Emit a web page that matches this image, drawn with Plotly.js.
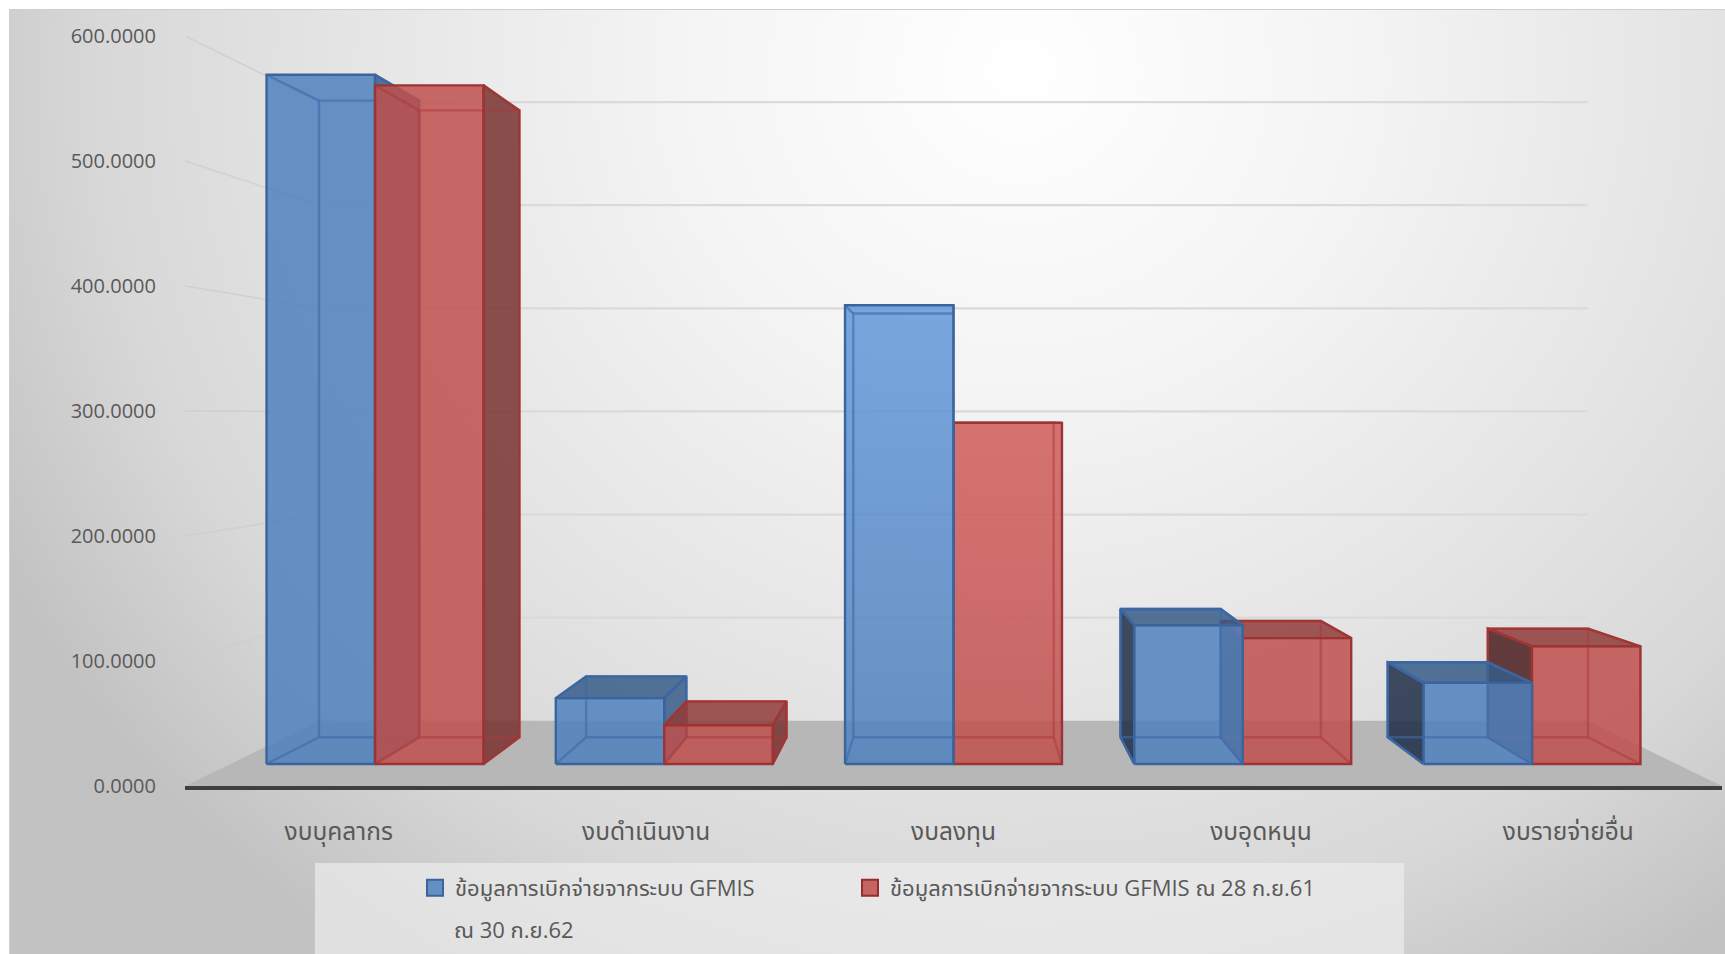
<!DOCTYPE html>
<html>
<head>
<meta charset="utf-8">
<script src="https://cdn.plot.ly/plotly-3.0.1.min.js"></script>
<style>
html,body{margin:0;padding:0;background:#fff;overflow:hidden}
#bg{position:absolute;left:9px;top:9px;width:1716px;height:945px;
 background:radial-gradient(ellipse 1150px 1080px at 1010px 60px,#ffffff 0%,#f4f4f4 30%,#e5e5e5 58%,#d8d8d8 80%,#c2c2c2 100%);
 border-top:1px solid #cfcfcf;border-left:1px solid #cfcfcf}
#chart{position:absolute;left:0;top:0;width:1725px;height:954px}
</style>
</head>
<body>
<div id="bg"></div>
<div id="chart"></div>
<script>
var categories = ['งบบุคลากร','งบดำเนินงาน','งบลงทุน','งบอุดหนุน','งบรายจ่ายอื่น'];
var disbursed62 = [586, 56, 390, 118, 69];
var disbursed61 = [577, 33, 290, 107, 100];
var seriesName62 = 'ข้อมูลการเบิกจ่ายจากระบบ GFMIS';
var seriesNote62 = 'ณ 30 ก.ย.62';
var seriesName61 = 'ข้อมูลการเบิกจ่ายจากระบบ GFMIS ณ 28 ก.ย.61';
var tickValues = [0,100,200,300,400,500,600];

var FONT = '"Open Sans","Noto Sans Thai","Noto Sans",sans-serif';
var VPX = 2, VPY = 298, K = 0.2121, Z_F = 0.296, Z_B = 0.71, HALF = 0.375;
function P(x, v, z, out){ var s = 1/(1+K*z); out.x.push(VPX+(x-VPX)*s); out.y.push(VPY+(v-VPY)*s); }
function poly(pts, fill, line, lw){
  var o = {x:[],y:[]};
  pts.forEach(function(p){ if(p===null){o.x.push(null);o.y.push(null);} else P(p[0],p[1],p[2],o); });
  var t = {type:'scatter',mode:'lines',x:o.x,y:o.y,hoverinfo:'skip',showlegend:false,
    line:{color:line||'rgba(0,0,0,0)',width:lw||0}};
  if(fill){t.fill='toself';t.fillcolor=fill;}
  return t;
}
var STY = {
  blue:{front:'rgba(79,129,189,0.85)',frontTop:'rgba(98,152,216,0.85)',side:'rgba(55,92,135,0.85)',left:'rgba(30,45,70,0.85)',top:'rgba(55,92,135,0.85)',
        edge:'rgb(58,100,155)',inner:'rgba(60,105,170,0.6)'},
  red:{front:'rgba(192,80,77,0.85)',frontTop:'rgba(208,92,90,0.85)',side:'rgba(120,50,48,0.85)',left:'rgba(75,30,30,0.85)',top:'rgba(145,60,58,0.85)',
        edge:'rgb(155,52,52)',inner:'rgba(170,55,55,0.5)'}
};
function bar(x0,x1,v,st,glow){
  var a=[], f=Z_F, b=Z_B;
  if(x1<VPX-1e-6) a.push(poly([[x1,0,f],[x1,v,f],[x1,v,b],[x1,0,b],[x1,0,f]],st.side,st.edge,2.4));
  if(x0>VPX+1e-6) a.push(poly([[x0,0,f],[x0,v,f],[x0,v,b],[x0,0,b],[x0,0,f]],st.left,st.edge,2.4));
  if(v<VPY) a.push(poly([[x0,v,f],[x1,v,f],[x1,v,b],[x0,v,b],[x0,v,f]],st.top,st.edge,2.4));
  var face = poly([[x0,0,f],[x1,0,f],[x1,v,f],[x0,v,f],[x0,0,f]],st.front,null,0);
  if(glow) face.fillgradient = {type:'vertical',colorscale:[[0,st.front],[1,st.frontTop]]};
  a.push(face);
  a.push(poly([[x0,0,b],[x1,0,b],[x1,v,b],[x0,v,b],[x0,0,b],null,
               [x0,0,f],[x0,0,b],null,[x1,0,f],[x1,0,b],null,[x0,v,f],[x0,v,b],null,[x1,v,f],[x1,v,b]],null,st.inner,2.4));
  a.push(poly([[x0,0,f],[x1,0,f],[x1,v,f],[x0,v,f],[x0,0,f]],null,st.edge,2.4));
  return a;
}
var traces = [];
traces.push(poly([[-0.5,0,0],[4.5,0,0],[4.5,0,1],[-0.5,0,1],[-0.5,0,0]],'rgb(183,183,183)',null,0));
tickValues.forEach(function(t){
  if(t>0){
    traces.push(poly([[-0.5,t,1],[4.5,t,1]],null,'rgb(218,218,218)',2.2));
    traces.push(poly([[-0.5,t,0],[-0.5,t,1]],null,'rgba(205,205,205,0.8)',1.5));
  }
});
var order = [0,1,2,4,3];
order.forEach(function(i){
  var glow = i===2;
  var blue = bar(i-HALF,i,disbursed62[i],STY.blue,glow);
  var red  = bar(i,i+HALF,disbursed61[i],STY.red,glow);
  traces = traces.concat(i<VPX ? blue.concat(red) : red.concat(blue));
});
traces.push({type:'scatter',mode:'markers',x:[null],y:[null],name:seriesName62,hoverinfo:'skip',legend:'legend',
  marker:{symbol:'square',size:16,color:'rgb(100,143,194)',line:{color:'rgb(58,100,155)',width:2}}});
traces.push({type:'scatter',mode:'markers',x:[null],y:[null],name:seriesName61,hoverinfo:'skip',legend:'legend2',
  marker:{symbol:'square',size:16,color:'rgb(196,101,98)',line:{color:'rgb(150,45,45)',width:2}}});

var L=185,T=36,W=1537,H=750;
function px(p){return (p-L)/W;}
function py(p){return (T+H-p)/H;}
var legendBase = {orientation:'h',xanchor:'left',y:py(867),yanchor:'top',bgcolor:'rgba(0,0,0,0)',
    font:{family:FONT,size:22,color:'#595959'},itemclick:false,itemdoubleclick:false};
var layout = {
  width:1725,height:954,
  margin:{l:L,r:1725-L-W,t:T,b:954-T-H,pad:0},
  paper_bgcolor:'rgba(0,0,0,0)',plot_bgcolor:'rgba(0,0,0,0)',
  font:{family:FONT,color:'#595959',size:22},
  xaxis:{range:[-0.5,4.5],tickmode:'array',tickvals:[0,1,2,3,4],ticktext:categories,showgrid:false,zeroline:false,
    showline:true,linecolor:'#3f3f3f',linewidth:3.5,ticks:'',ticklabelstandoff:21,tickfont:{family:FONT,size:24.5,color:'#595959'},fixedrange:true},
  yaxis:{range:[0,600],tickmode:'array',tickvals:tickValues,tickformat:'.4f',showgrid:false,zeroline:false,showline:false,
    ticks:'',ticklabelstandoff:28,tickfont:{family:FONT,size:20,color:'#595959'},fixedrange:true},
  showlegend:true,
  legend:Object.assign({},legendBase,{x:px(415)}),
  legend2:Object.assign({},legendBase,{x:px(850)}),
  shapes:[{type:'rect',xref:'paper',yref:'paper',layer:'below',x0:px(315),x1:px(1404),y0:py(863),y1:py(954),
    fillcolor:'rgba(236,236,236,0.7)',line:{width:0}}],
  annotations:[{xref:'paper',yref:'paper',x:px(452),xanchor:'left',y:py(929),yanchor:'middle',showarrow:false,
    text:seriesNote62,font:{family:FONT,size:22,color:'#595959'}}],
  hovermode:false
};
Plotly.newPlot('chart',traces,layout,{displayModeBar:false,staticPlot:true});
</script>
</body>
</html>
